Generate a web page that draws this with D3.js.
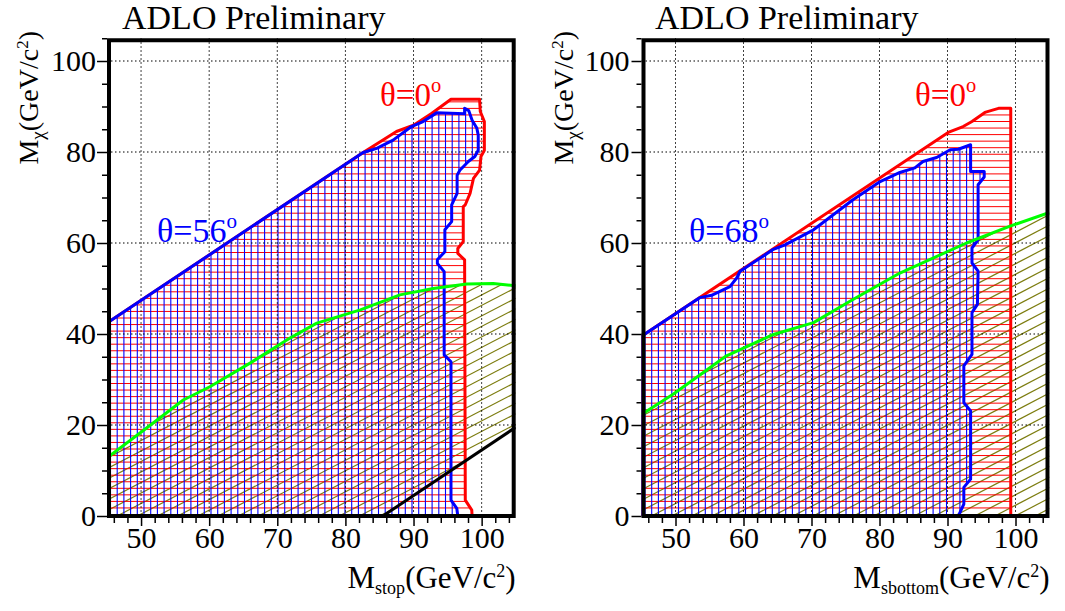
<!DOCTYPE html>
<html>
<head>
<meta charset="utf-8">
<script src="https://cdn.jsdelivr.net/npm/d3@7"></script>
<style>
  body { margin: 0; background: #fff; }
  svg { display: block; }
  svg text { font-family: "Liberation Serif", "DejaVu Serif", serif; }
</style>
</head>
<body>
<svg id="chart" width="1065" height="611"></svg>
<script>
const SERIF = "'Liberation Serif', 'DejaVu Serif', serif";

// ---- axis ranges and ticks (GeV/c^2) ----
const xDomain = [45, 105];
const yDomain = [0, 105];
const xMajorTicks = [50, 60, 70, 80, 90, 100];
const yMajorTicks = [0, 20, 40, 60, 80, 100];
const xMinorTicks = [46, 48, 52, 54, 56, 58, 62, 64, 66, 68, 72, 74, 76, 78, 82, 84, 86, 88, 92, 94, 96, 98, 102, 104];
const yMinorTicks = [5, 10, 15, 25, 30, 35, 45, 50, 55, 65, 70, 75, 85, 90, 95, 105];

// ---- stop: excluded region, theta = 0 deg (red) ----
const stopTheta0 = [
  [45, 0], [98.6, 0], [98.55, 1.3], [97.6, 3.5], [97.5, 56.3], [96.5, 57.7], [96.5, 58.8],
  [97.3, 60.3], [97.3, 68.0], [97.6, 68.4], [98.3, 70.9], [98.8, 74.2], [99.7, 76.0],
  [99.9, 79.0], [100.4, 80.4], [100.4, 86.7], [99.8, 88.9], [99.7, 91.6], [95.5, 91.6],
  [92.7, 88.5], [90.0, 85.9], [87.5, 84.5], [82.6, 79.9], [45, 42.4]
];
// ---- stop: excluded region, theta = 56 deg (blue) ----
const stopTheta56 = [
  [45, 0], [96.5, 0], [96.35, 1.7], [95.5, 3.5], [95.5, 33.9], [94.5, 35.4], [94.5, 53.7],
  [93.5, 55.5], [93.5, 56.3], [94.6, 58.1], [94.6, 62.9], [95.6, 64.7], [95.6, 68.4],
  [96.4, 70.9], [96.4, 74.9], [96.8, 76.0], [98.05, 77.9], [99.0, 79.0], [99.5, 80.4],
  [99.5, 83.7], [99.3, 85.2], [98.6, 87.0], [98.1, 89.1], [97.5, 89.6], [97.5, 88.4],
  [93.4, 88.6], [91.4, 86.7], [89.7, 85.6], [87.0, 82.6], [84.6, 80.8], [82.6, 79.9], [45, 42.4]
];
// ---- stop: LEP1 limit (green) and kinematic line (black) ----
const stopGreen = [
  [45, 12.8], [49.8, 18.2], [56.2, 25.5], [60.1, 28.4], [66.0, 33.6], [71.4, 38.7],
  [75.8, 42.4], [82.2, 45.3], [88.0, 48.6], [92.9, 50.0], [97.8, 51.0], [101.7, 51.1], [105, 50.6]
];
const stopBlack = [[85.5, 0], [105, 19.5]];

// ---- sbottom: excluded region, theta = 0 deg (red) ----
const sbotTheta0 = [
  [45, 0], [99.3, 0], [99.3, 89.6], [97.5, 89.6], [95.5, 88.7], [93.6, 86.7],
  [92.3, 85.6], [90.1, 84.3], [45, 39.5]
];
// ---- sbottom: excluded region, theta = 68 deg (blue) ----
const sbotTheta68 = [
  [45, 0], [91.6, 0], [92.4, 2.6], [92.4, 6.3], [93.4, 8.1], [93.4, 23.1], [92.4, 24.9],
  [92.4, 33.0], [93.6, 35.5], [93.6, 44.7], [94.4, 46.5], [94.5, 53.8], [93.6, 55.6],
  [93.6, 58.9], [94.5, 60.7], [94.5, 72.8], [95.4, 74.5], [95.4, 75.7], [93.4, 75.7],
  [93.4, 81.6], [91.6, 80.6], [90.4, 80.5], [88.4, 78.8], [86.4, 77.9], [85.2, 76.5],
  [83.0, 75.5], [80.1, 73.5], [76.1, 69.5], [70.3, 62.9], [66.1, 59.6], [64.4, 58.6],
  [59.5, 53.8], [59.0, 52.3], [58.0, 50.4], [55.3, 48.5], [53.6, 48.0], [45, 39.5]
];
const sbotGreen = [
  [45, 22.3], [49.7, 26.8], [57.5, 35.2], [64.4, 39.9], [70.3, 42.5], [76.1, 47.6],
  [83.0, 53.4], [92.8, 60.0], [99.2, 63.7], [105, 66.7]
];

const svg = d3.select("#chart");
const defs = svg.append("defs");

const panels = [
  {
    id: "stop", left: 107, right: 515.7, particle: "stop",
    red: stopTheta0, blue: stopTheta56, green: stopGreen, black: stopBlack,
    redLabel: { x: 380, y: 106, size: 33, text: "θ=0" },
    blueLabel: { x: 157, y: 242, size: 34, text: "θ=56" },
    titleX: 122
  },
  {
    id: "sbot", left: 641.5, right: 1049.5, particle: "sbottom",
    red: sbotTheta0, blue: sbotTheta68, green: sbotGreen, black: null,
    redLabel: { x: 915, y: 106, size: 33, text: "θ=0" },
    blueLabel: { x: 689, y: 242, size: 34, text: "θ=68" },
    titleX: 655
  }
];

const yBottom = 516, yTop = 516 - 105 * 4.55;

panels.forEach(p => {
  const x = d3.scaleLinear().domain(xDomain).range([p.left, p.right]);
  const y = d3.scaleLinear().domain(yDomain).range([yBottom, yTop]);
  const g = svg.append("g");
  const poly = d3.line().x(d => x(d[0])).y(d => y(d[1]));

  // clip to the frame
  defs.append("clipPath").attr("id", `frame-${p.id}`)
    .append("rect").attr("x", p.left).attr("y", yTop)
    .attr("width", p.right - p.left).attr("height", yBottom - yTop);

  // region below the green curve (down to the black line where present)
  let olivePts = p.green.slice();
  if (p.black) {
    olivePts = olivePts.concat(p.black.slice().reverse());
  } else {
    olivePts.push([xDomain[1], 0]);
  }
  olivePts.push([xDomain[0], 0]);

  function hatch(pts, kind, color, step, width, name) {
    const cid = `clip-${p.id}-${name}`;
    defs.append("clipPath").attr("id", cid).append("path").attr("d", poly(pts) + "Z");
    const hg = g.append("g").attr("clip-path", `url(#${cid})`)
      .attr("stroke", color).attr("stroke-width", width).attr("fill", "none");
    const segs = [];
    if (kind === "h") {
      for (let yy = yBottom - 1.5; yy > yTop; yy -= step) segs.push([p.left, yy, p.right, yy]);
    } else if (kind === "v") {
      for (let xx = p.left + 3.5; xx < p.right; xx += step) segs.push([xx, yTop, xx, yBottom]);
    } else {
      const slope = 0.52;
      const span = (p.right - p.left) * slope;
      for (let c = yTop; c < yBottom + span; c += step) {
        segs.push([p.left, c, p.right, c - span]);
      }
    }
    hg.selectAll("line").data(segs).join("line")
      .attr("x1", d => d[0]).attr("y1", d => d[1])
      .attr("x2", d => d[2]).attr("y2", d => d[3]);
  }

  hatch(olivePts, "d", "#7d7d10", 10.5, 1.2, "olive");
  hatch(p.red, "h", "#ff0000", 6.55, 1, "red");
  hatch(p.blue, "v", "#0000ff", 6.7, 1.1, "blue");

  // dotted grid
  const grid = g.append("g").attr("stroke", "#000").attr("stroke-width", 1)
    .attr("stroke-dasharray", "1.5,2.5");
  grid.selectAll(".gx").data(xMajorTicks).join("line")
    .attr("x1", d => x(d)).attr("x2", d => x(d)).attr("y1", yTop).attr("y2", yBottom);
  grid.selectAll(".gy").data(yMajorTicks.filter(v => v > 0)).join("line")
    .attr("x1", p.left).attr("x2", p.right).attr("y1", d => y(d)).attr("y2", d => y(d));

  // outlines
  const lines = g.append("g").attr("clip-path", `url(#frame-${p.id})`)
    .attr("fill", "none").attr("stroke-linejoin", "round");
  lines.append("path").attr("d", poly(p.red) + "Z").attr("stroke", "#ff0000").attr("stroke-width", 3);
  lines.append("path").attr("d", poly(p.blue) + "Z").attr("stroke", "#0000ff").attr("stroke-width", 3);
  lines.append("path").attr("d", poly(p.green)).attr("stroke", "#00ff00").attr("stroke-width", 3);
  if (p.black) {
    lines.append("path").attr("d", poly(p.black)).attr("stroke", "#000").attr("stroke-width", 3);
  }

  // frame
  g.append("rect").attr("x", p.left + 2).attr("y", yTop + 2)
    .attr("width", p.right - p.left - 4).attr("height", yBottom - yTop - 2)
    .attr("fill", "none").attr("stroke", "#000").attr("stroke-width", 4);

  // axes
  g.append("g").attr("transform", `translate(${p.left},0)`)
    .call(d3.axisLeft(y).tickValues(yMajorTicks).tickSize(10).tickPadding(p.id === "stop" ? 1 : 2)
      .tickFormat(d3.format("d")));
  g.append("g").attr("transform", `translate(${p.left},0)`)
    .call(d3.axisLeft(y).tickValues(yMinorTicks).tickSize(5).tickFormat(""));
  g.append("g").attr("transform", `translate(0,${yBottom + 2})`)
    .call(d3.axisBottom(x).tickValues(xMajorTicks).tickSize(8).tickPadding(1)
      .tickFormat(d3.format("d")));
  g.append("g").attr("transform", `translate(0,${yBottom + 2})`)
    .call(d3.axisBottom(x).tickValues(xMinorTicks).tickSize(5).tickFormat(""));
  g.selectAll(".domain").remove();
  g.selectAll("g").attr("font-family", SERIF);
  g.selectAll(".tick line").attr("stroke", "#000").attr("stroke-width", 1.5);
  g.selectAll(".tick text").attr("font-family", SERIF)
    .attr("font-size", 30).attr("fill", "#000");

  // x-axis title
  const xt = g.append("text").attr("x", p.right).attr("y", 588).attr("font-family", SERIF)
    .attr("text-anchor", "end").attr("font-size", 31).attr("fill", "#000");
  xt.append("tspan").text("M");
  xt.append("tspan").attr("font-size", 18).attr("dy", 6).text(p.particle);
  xt.append("tspan").attr("dy", -6).text("(GeV/c");
  xt.append("tspan").attr("font-size", 18).attr("dy", -11).text("2");
  xt.append("tspan").attr("dy", 11).text(")");

  // y-axis title
  const yt = g.append("text").attr("font-family", SERIF)
    .attr("transform", `translate(${p.left - 69},31) rotate(-90)`)
    .attr("text-anchor", "end").attr("font-size", 28).attr("fill", "#000");
  yt.append("tspan").text("M");
  yt.append("tspan").attr("font-size", 19).attr("dy", 6).text("χ");
  yt.append("tspan").attr("dy", -6).text("(GeV/c");
  yt.append("tspan").attr("font-size", 17).attr("dy", -10).text("2");
  yt.append("tspan").attr("dy", 10).text(")");

  // header
  g.append("text").attr("x", p.titleX).attr("y", 29).attr("font-size", 34)
    .attr("font-family", SERIF).attr("fill", "#000").text("ADLO Preliminary");

  // curve labels
  [[p.redLabel, "#ff0000"], [p.blueLabel, "#0000ff"]].forEach(([l, col]) => {
    const t = g.append("text").attr("x", l.x).attr("y", l.y).attr("font-family", SERIF)
      .attr("font-size", l.size).attr("fill", col);
    t.append("tspan").text(l.text);
    t.append("tspan").attr("font-size", l.size * 0.62).attr("dy", -l.size * 0.42).text("o");
  });
});
</script>
</body>
</html>
